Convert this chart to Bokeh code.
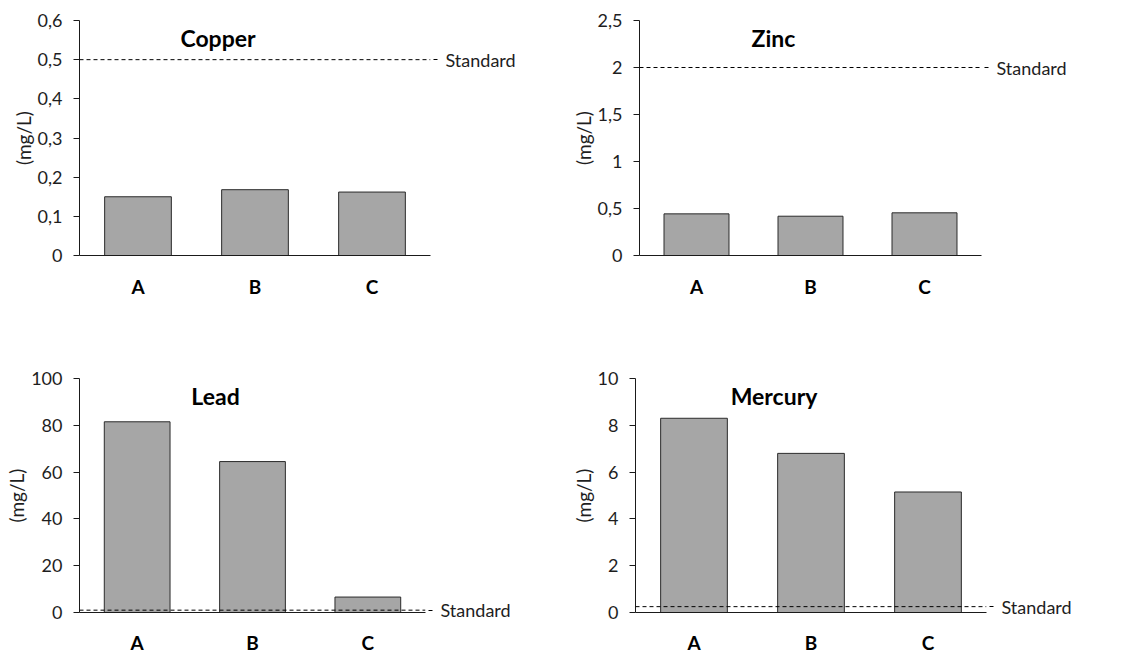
from bokeh.plotting import figure
from bokeh.models import FactorRange, Range1d, FixedTicker, Span, Label, LinearAxis
from bokeh.layouts import column, row
from bokeh.embed import file_html
from bokeh.resources import INLINE

# ---- data ----
categories = ["A", "B", "C"]
metals = ["Copper", "Zinc", "Lead", "Mercury"]
copper = [0.150, 0.168, 0.162]
zinc = [0.443, 0.418, 0.454]
lead = [81.5, 64.5, 6.6]
mercury = [8.30, 6.80, 5.15]
standards = [0.5, 2.0, 1.0, 0.25]
y_max = [0.6, 2.5, 100, 10]
copper_ticks = [0, 0.1, 0.2, 0.3, 0.4, 0.5, 0.6]
copper_labels = ["0", "0,1", "0,2", "0,3", "0,4", "0,5", "0,6"]
zinc_ticks = [0, 0.5, 1, 1.5, 2, 2.5]
zinc_labels = ["0", "0,5", "1", "1,5", "2", "2,5"]
lead_ticks = [0, 20, 40, 60, 80, 100]
lead_labels = ["0", "20", "40", "60", "80", "100"]
mercury_ticks = [0, 2, 4, 6, 8, 10]
mercury_labels = ["0", "2", "4", "6", "8", "10"]
y_label = "(mg/L)"
std_label = "Standard"

FONT = "Lato"
TXT = "#1e1e1e"

def panel(title, vals, std, ymax, ticks, labels, width, height,
          left, right, top, bottom, xstand):
    p = figure(x_range=FactorRange(factors=categories, range_padding=0),
               y_range=Range1d(0, ymax),
               width=width, height=height,
               min_border_left=left, min_border_right=right,
               min_border_top=top, min_border_bottom=bottom,
               output_backend="svg", toolbar_location=None)
    p.vbar(x=categories, top=vals, width=0.57, fill_color="#a6a6a6",
           line_color="#2b2b2b", line_width=1)
    p.add_layout(Span(location=std, dimension="width", line_color="#000000",
                      line_dash="4 3", line_width=1))
    # "Standard" label through a right-hand axis holding a single tick
    ra = LinearAxis(ticker=FixedTicker(ticks=[std]),
                    major_label_overrides={std: std_label})
    ra.axis_line_color = None
    ra.minor_tick_line_color = None
    ra.major_tick_in = 0
    ra.major_tick_out = 7
    ra.major_tick_line_dash = "4 3"
    ra.major_tick_line_color = "#000000"
    ra.major_label_standoff = 8
    ra.major_label_text_font = FONT
    ra.major_label_text_font_size = "18px"
    ra.major_label_text_color = TXT
    p.add_layout(ra, "right")

    p.add_layout(Label(x=1.5, y=ymax, x_offset=-37, y_offset=-17, text=title,
                       text_font=FONT, text_font_size="23px",
                       text_font_style="bold", text_color="#000000",
                       text_align="center", text_baseline="alphabetic"))
    p.xgrid.visible = False
    p.ygrid.visible = False
    p.outline_line_color = None
    p.background_fill_color = "white"
    p.border_fill_color = "white"

    ya = p.yaxis[0]
    ya.ticker = FixedTicker(ticks=ticks)
    ya.major_label_overrides = {t: l for t, l in zip(ticks, labels)}
    ya.minor_tick_line_color = None
    ya.major_tick_in = 0
    ya.major_tick_out = 6
    ya.major_label_standoff = 11
    ya.axis_label = y_label
    ya.axis_label_standoff = 0
    ya.axis_label_text_font = FONT
    ya.axis_label_text_font_size = "19px"
    ya.axis_label_text_font_style = "normal"
    ya.axis_label_text_color = TXT
    ya.major_label_text_font = FONT
    ya.major_label_text_font_size = "18px"
    ya.major_label_text_color = TXT
    ya.axis_line_color = "#1a1a1a"
    ya.major_tick_line_color = "#1a1a1a"

    xa = p.xaxis[0]
    xa.major_tick_in = 0
    xa.major_tick_out = 0
    xa.minor_tick_line_color = None
    xa.major_tick_line_color = None
    xa.major_label_standoff = xstand
    xa.major_label_text_font = FONT
    xa.major_label_text_font_size = "19px"
    xa.major_label_text_font_style = "bold"
    xa.major_label_text_color = "#000000"
    xa.axis_line_color = "#1a1a1a"
    return p

p1 = panel(metals[0], copper, standards[0], y_max[0], copper_ticks, copper_labels,
           568, 368, 79, 138, 20, 113, 19)
p2 = panel(metals[1], zinc, standards[1], y_max[1], zinc_ticks, zinc_labels,
           577, 368, 65, 164, 20, 113, 19)
p3 = panel(metals[2], lead, standards[2], y_max[2], lead_ticks, lead_labels,
           568, 288, 79, 143, 10, 43, 18)
p4 = panel(metals[3], mercury, standards[3], y_max[3], mercury_ticks, mercury_labels,
           577, 288, 64, 159, 10, 43, 18)

layout = column(row(p1, p2), row(p3, p4))
open("out.html", "w").write(file_html(layout, INLINE))
